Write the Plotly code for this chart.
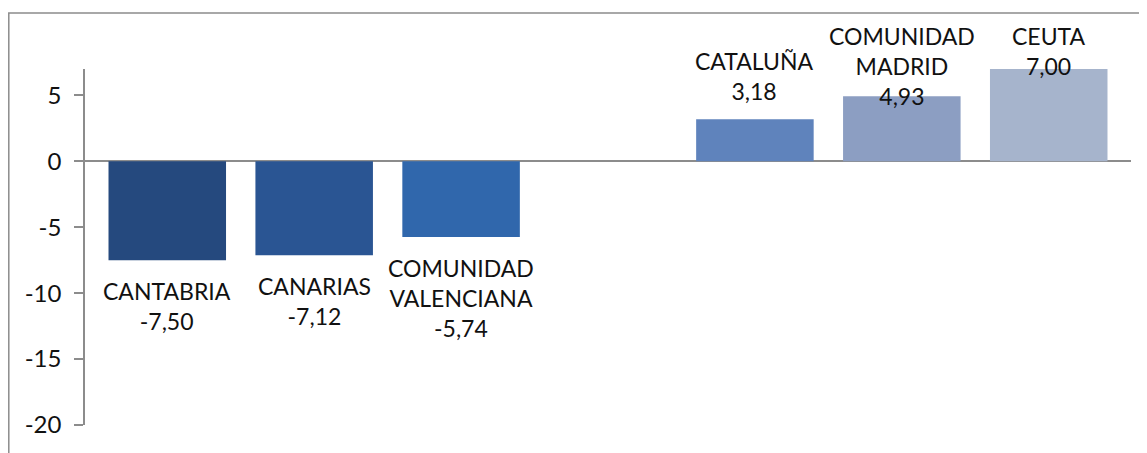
import plotly.graph_objects as go

categories = ["CANTABRIA", "CANARIAS", "COMUNIDAD VALENCIANA", " ", "CATALUÑA", "COMUNIDAD MADRID", "CEUTA"]
label_lines = ["CANTABRIA", "CANARIAS", "COMUNIDAD<br>VALENCIANA", "", "CATALUÑA", "COMUNIDAD<br>MADRID", "CEUTA"]
values = [-7.50, -7.12, -5.74, None, 3.18, 4.93, 7.00]
colors = ["#25497E", "#2A5593", "#3067AC", "#ffffff", "#5F83BC", "#8C9EC2", "#A6B4CC"]
y_ticks = [5, 0, -5, -10, -15, -20]

FONT = "Lato, Liberation Sans, Arial, sans-serif"
# page body has an 8px margin: figure is drawn from (8, 8)
OFF = 8
W, H = 1147 - OFF, 453 - OFF
ML, MR, MT, MB = 85 - OFF, 16, 69 - OFF, 28
YMIN, YMAX = -20, 7
plot_h = H - MT - MB
px_per_unit = plot_h / (YMAX - YMIN)

fig = go.Figure()
fig.add_trace(go.Bar(
    x=categories, y=values,
    marker=dict(color=colors, line=dict(width=0)),
    width=0.8, hoverinfo="skip",
))

def fmt(v):
    return f"{v:.2f}".replace(".", ",")

annotations = []
line_h = 31
LABEL_FONT = dict(family=FONT, size=23, color="#111111")
for cat, lab, v in zip(categories, label_lines, values):
    if v is None:
        continue
    text = f"{lab}<br>{fmt(v)}"
    nlines = text.count("<br>") + 1
    if v < 0:
        annotations.append(dict(x=cat, y=v, xref="x", yref="y", text=text,
                                showarrow=False, yanchor="top", yshift=-15,
                                font=LABEL_FONT))
    else:
        bar_top_px = MT + (YMAX - v) * px_per_unit
        label_top_px = bar_top_px - 14 - nlines * line_h
        if label_top_px >= 12:
            annotations.append(dict(x=cat, y=v, xref="x", yref="y", text=text,
                                    showarrow=False, yanchor="bottom", yshift=12,
                                    font=LABEL_FONT))
        else:
            annotations.append(dict(x=cat, y=(H - MB - 12) / plot_h, xref="x", yref="paper",
                                    text=text, showarrow=False, yanchor="top",
                                    font=LABEL_FONT))

fig.update_layout(
    width=W, height=H,
    margin=dict(l=ML, r=MR, t=MT, b=MB),
    paper_bgcolor="white", plot_bgcolor="white",
    showlegend=False,
    bargap=0.2,
    annotations=annotations,
    xaxis=dict(range=[-0.56, 6.56], showticklabels=False, showgrid=False,
               zeroline=False, showline=False, ticks=""),
    yaxis=dict(range=[YMIN, YMAX], tickvals=y_ticks, ticktext=[str(t) for t in y_ticks],
               showgrid=False, zeroline=True, zerolinecolor="#8C8C8C", zerolinewidth=1.5,
               showline=True, linecolor="#8C8C8C", linewidth=1.5,
               ticks="outside", ticklen=9, tickcolor="#8C8C8C", tickwidth=1.5,
               ticklabelstandoff=8,
               tickfont=dict(family=FONT, size=24, color="#111111")),
    shapes=[dict(type="rect", xref="paper", yref="paper",
                 x0=(0.8 - ML) / (W - ML - MR), x1=(1146 - OFF - ML) / (W - ML - MR),
                 y0=-0.2, y1=(H - MB - (13 - OFF)) / plot_h,
                 line=dict(color="#8C8C8C", width=1.5))],
)

fig.write_html("out.html")
